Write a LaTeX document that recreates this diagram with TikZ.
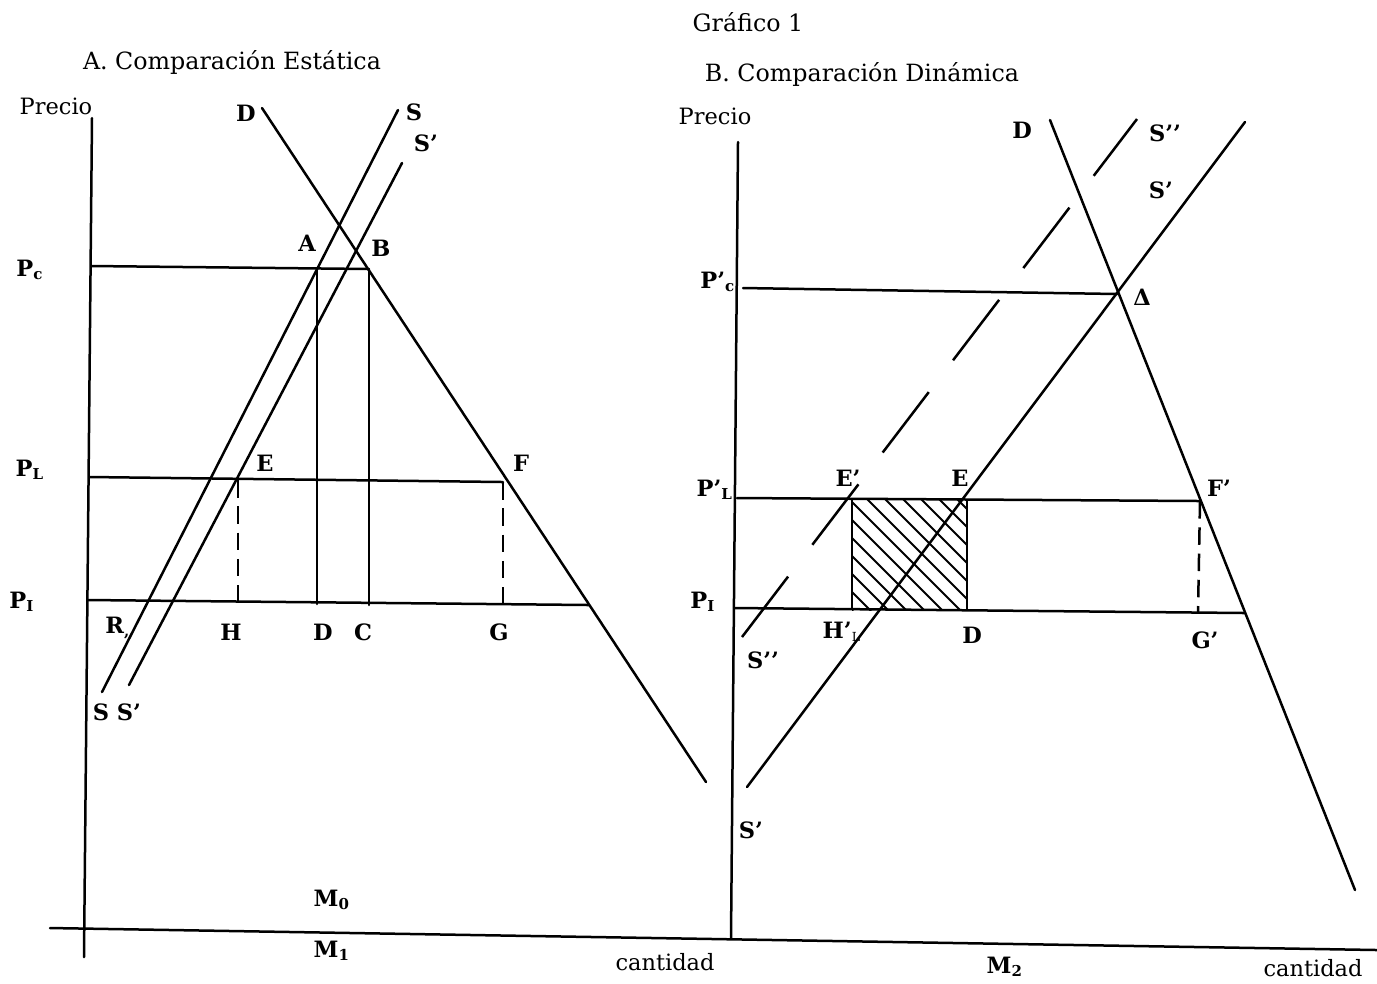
\documentclass[tikz,border=0pt]{standalone}
\usepackage{fontspec}
\setmainfont{DejaVu Serif}
\usetikzlibrary{positioning}

\begin{document}
\begin{tikzpicture}[x=0.4pt, y=-0.4pt,
    curve/.style={line width=1pt, line cap=round},
    guide/.style={line width=1pt, dash pattern=on 7pt off 3.5pt},
    shifted/.style={line width=1pt, dash pattern=on 30.4pt off 16pt},
    hatch/.style={line width=0.8pt},
    lbl/.style={font=\fontsize{9}{11}\selectfont\bfseries, inner sep=0pt},
    word/.style={font=\fontsize{9}{11}\selectfont, inner sep=0pt},
    ttl/.style={font=\fontsize{9.5}{11}\selectfont, inner sep=0pt}
  ]
  \useasboundingbox (0,0) rectangle (1377,983);

  % titles
  \node[ttl] (title) at (748,22) {Gráfico 1};
  \node[ttl] (titleA) at (232,62) {A. Comparación Estática};
  \node[ttl] (titleB) at (862,74) {B. Comparación Dinámica};

  % axes
  \coordinate (yA0) at (92,118);  \coordinate (yA1) at (84,957);
  \coordinate (yB0) at (738,142); \coordinate (yB1) at (731,938);
  \coordinate (xL) at (50,928);   \coordinate (xR) at (1377,950);
  \draw[curve] (yA0) -- (yA1);
  \draw[curve] (yB0) -- (yB1);
  \draw[curve] (xL) -- (xR);

  % panel A: curves
  \coordinate (DAtop) at (262,108); \coordinate (DAbot) at (706,782);
  \coordinate (Stop) at (398,110);  \coordinate (Sbot) at (102,692);
  \coordinate (S1top) at (402,163); \coordinate (S1bot) at (129,685);
  \draw[curve] (DAtop) -- (DAbot);
  \draw[curve] (Sbot) -- (Stop);
  \draw[curve] (S1bot) -- (S1top);

  % panel A: price lines
  \coordinate (A) at (317,268);  \coordinate (B) at (369,269);
  \coordinate (Dq) at (317,604); \coordinate (Cq) at (369,605);
  \coordinate (E) at (238,480);  \coordinate (F) at (503,482);
  \coordinate (Hq) at (238,602); \coordinate (Gq) at (503,604);
  \draw[curve] (92,266) -- (B);
  \draw[curve] (90,477) -- (F);
  \draw[curve] (88,600) -- (589,605);
  \draw[curve] (A) -- (Dq);
  \draw[curve] (B) -- (Cq);
  \draw[guide] (E) -- (Hq);
  \draw[guide] (F) -- (Gq);

  % panel B: curves
  \coordinate (DBtop) at (1050,120); \coordinate (DBbot) at (1355,890);
  \coordinate (S1Btop) at (1245,122); \coordinate (S1Bbot) at (747,787);
  \coordinate (S2top) at (1137,119); \coordinate (S2bot) at (742,637);
  \draw[curve] (DBtop) -- (DBbot);
  \draw[curve] (S1Bbot) -- (S1Btop);
  \draw[shifted] (S2bot) -- (S2top);

  % panel B: price lines
  \coordinate (Delta) at (1117,294); \coordinate (F1) at (1200,501);
  \coordinate (G1) at (1198,612);
  \draw[curve] (743,288) -- (Delta);
  \draw[curve] (737,498) -- (F1);
  \draw[curve] (735,608) -- (1245,613);
  \draw[guide] (F1) -- (G1);

  % hatched area
  \begin{scope}
    \clip (852,499) rectangle (967,610);
    \foreach \i in {0,...,13}
      \draw[hatch] ({741+\i*18},499) -- ++(112,112);
  \end{scope}
  \draw[hatch] (852,499) -- (852,610);
  \draw[hatch] (967,499) -- (967,610);

  % panel A labels
  \node[word] (precioA) at (56,106) {Precio};
  \node[lbl] (Pc) at (30,270) {P\textsubscript{c}};
  \node[lbl] (PL) at (30,470) {P\textsubscript{L}};
  \node[lbl] (PI) at (22,602) {P\textsubscript{I}};
  \node[lbl] (lDA) at (246,113) {D};
  \node[lbl] (lS) at (414,112) {S};
  \node[lbl] (lS1) at (426,143) {S’};
  \node[lbl] (lA) at (307,243) {A};
  \node[lbl] (lB) at (381,248) {B};
  \node[lbl] (lE) at (265,463) {E};
  \node[lbl] (lF) at (521,463) {F};
  \node[lbl] (lR) at (118,628) {R\textsubscript{,}};
  \node[lbl] (lH) at (231,632) {H};
  \node[lbl] (lD) at (323,632) {D};
  \node[lbl] (lC) at (363,632) {C};
  \node[lbl] (lG) at (499,632) {G};
  \node[lbl] (lSb) at (101,712) {S};
  \node[lbl] (lS1b) at (129,712) {S’};
  \node[lbl] (M0) at (332,900) {M\textsubscript{0}};
  \node[lbl] (M1) at (332,951) {M\textsubscript{1}};
  \node[word] (qA) at (665,962) {cantidad};

  % panel B labels
  \node[word] (precioB) at (715,116) {Precio};
  \node[lbl] (Pc1) at (718,282) {P’\textsubscript{c}};
  \node[lbl] (PL1) at (715,490) {P’\textsubscript{L}};
  \node[lbl] (PIB) at (703,602) {P\textsubscript{I}};
  \node[lbl] (lDB) at (1022,130) {D};
  \node[lbl] (lS2) at (1165,133) {S’’};
  \node[lbl] (lS1B) at (1161,190) {S’};
  \node[lbl] (lDelta) at (1142,297) {Δ};
  \node[lbl] (lE1) at (848,478) {E’};
  \node[lbl] (lEB) at (960,478) {E};
  \node[lbl] (lF1) at (1219,488) {F’};
  \node[lbl] (lS2b) at (763,660) {S’’};
  \node[lbl] (lH1) at (842,632) {H’\textsubscript{\tiny\mdseries L}};
  \node[lbl] (lDB2) at (972,635) {D};
  \node[lbl] (lG1) at (1205,640) {G’};
  \node[lbl] (lS1Bb) at (751,830) {S’};
  \node[lbl] (M2) at (1005,967) {M\textsubscript{2}};
  \node[word] (qB) at (1313,968) {cantidad};
\end{tikzpicture}
\end{document}
